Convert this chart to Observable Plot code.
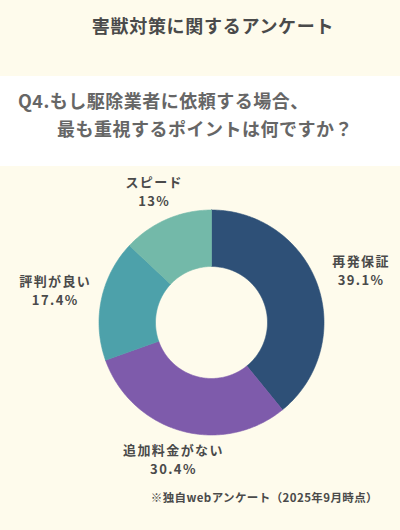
<!DOCTYPE html>
<html><head><meta charset="utf-8">
<script src="https://cdn.jsdelivr.net/npm/d3@7"></script>
<script src="https://cdn.jsdelivr.net/npm/@observablehq/plot@0.6"></script>
<style>
body{margin:0;width:400px;height:530px;background:#FEFBEC;font-family:"Noto Sans CJK JP","Noto Sans",sans-serif;overflow:hidden;position:relative}
#head{height:76px;position:relative}
#title{position:absolute;top:12px;left:0;width:400px;text-align:center;padding-left:26px;box-sizing:border-box;font-size:18px;line-height:26px;font-weight:700;color:#4a4a4a;letter-spacing:0.7px}
#q{height:90px;background:#fff;position:relative;color:#666;font-size:18px;font-weight:700;letter-spacing:0.5px}
#q div{position:absolute;line-height:24px;white-space:nowrap}
#l1{top:12px;left:18px}
#l2{top:40px;left:57px}
#chart svg text{letter-spacing:1.4px}
#cap{position:absolute;top:488px;right:22px;font-size:11.5px;line-height:18px;font-weight:700;color:#4a4a4a;letter-spacing:0.4px;white-space:nowrap}
</style></head>
<body>
<div id="head"><div id="title">害獣対策に関するアンケート</div></div>
<div id="q"><div id="l1">Q4.もし駆除業者に依頼する場合、</div><div id="l2">最も重視するポイントは何ですか？</div></div>
<div id="chart"></div>
<div id="cap">※独自webアンケート（2025年9月時点）</div>
<script>
const categories = ["再発保証", "追加料金がない", "評判が良い", "スピード"];
const values = [39.1, 30.4, 17.4, 13.0];
const pctLabels = ["39.1%", "30.4%", "17.4%", "13%"];
const colors = ["#2E5077", "#7E5BAB", "#4DA1AA", "#73B9A9"];

const innerRatio = 56 / 112.5;
const arcs = d3.pie().sort(null).value(d => d)(values);

const poly = [];
const labels = [];
arcs.forEach((a, i) => {
  const cat = categories[i];
  const n = Math.max(8, Math.ceil((a.endAngle - a.startAngle) * 60));
  const pts = [];
  for (let k = 0; k <= n; k++) {
    const t = a.startAngle + (a.endAngle - a.startAngle) * k / n;
    pts.push({cat, x: Math.sin(t), y: Math.cos(t)});
  }
  for (let k = n; k >= 0; k--) {
    const t = a.startAngle + (a.endAngle - a.startAngle) * k / n;
    pts.push({cat, x: innerRatio * Math.sin(t), y: innerRatio * Math.cos(t)});
  }
  pts.push({...pts[0]});
  poly.push(...pts);
  const m = (a.startAngle + a.endAngle) / 2;
  const r = 1.188 + 0.236 * Math.abs(Math.sin(m));
  labels.push({x: r * Math.sin(m), y: r * Math.cos(m), text: cat + "\n" + pctLabels[i]});
});

const cx = 211, cy = 156, R = 112.5;
const chart = Plot.plot({
  width: 400,
  height: 310,
  margin: 0,
  style: {background: "transparent", overflow: "visible"},
  x: {domain: [-1, 1], range: [cx - R, cx + R], axis: null},
  y: {domain: [-1, 1], range: [cy + R, cy - R], axis: null},
  color: {domain: categories, range: colors},
  marks: [
    Plot.line(poly, {x: "x", y: "y", z: "cat", fill: "cat", stroke: "cat", strokeWidth: 0.6}),
    Plot.text(labels, {x: "x", y: "y", text: "text", fontSize: 13, fontWeight: 700, fill: "#4a4a4a", lineHeight: 1.45, fontFamily: "Noto Sans CJK JP"})
  ]
});
document.getElementById("chart").appendChild(chart);
</script>
</body></html>
